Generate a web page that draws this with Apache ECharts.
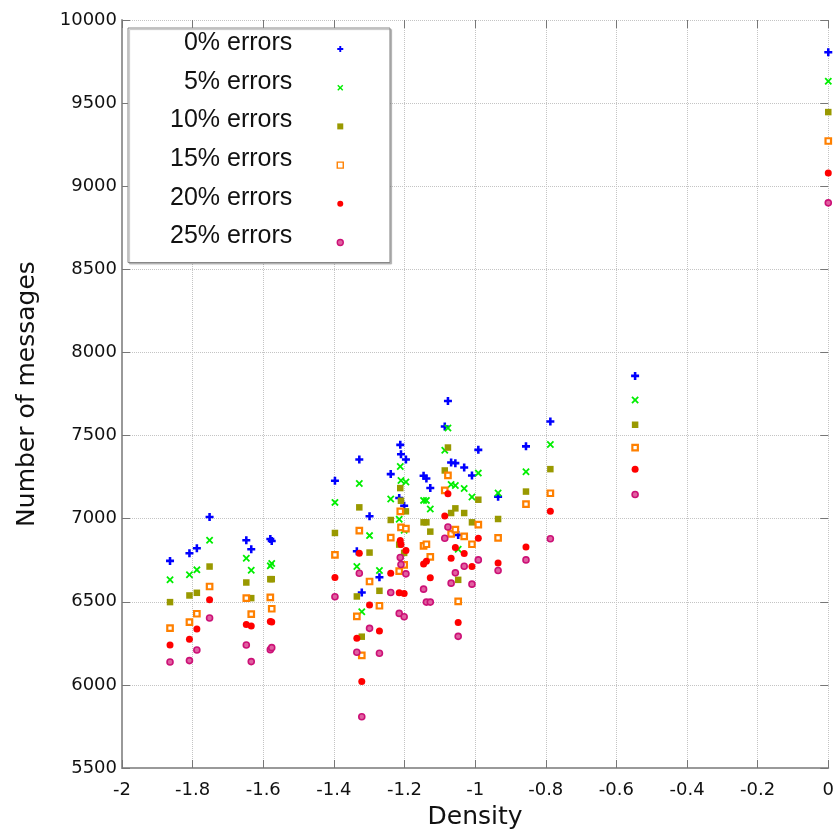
<!DOCTYPE html>
<html>
<head>
<meta charset="utf-8">
<script src="https://cdn.jsdelivr.net/npm/echarts@6/dist/echarts.min.js"></script>
<style>
  html, body { margin: 0; padding: 0; background: #fff; }
  #chart { width: 837px; height: 835px; }
</style>
</head>
<body>
<div id="chart"></div>
<script>
// density of each measured configuration (x)
var density = [-1.864, -1.809, -1.788, -1.752, -1.648, -1.634, -1.580, -1.576,
  -1.397, -1.335, -1.328, -1.321, -1.299, -1.271, -1.239, -1.215, -1.212, -1.210,
  -1.201, -1.196, -1.146, -1.138, -1.127, -1.086, -1.077, -1.068, -1.056, -1.048,
  -1.031, -1.009, -0.991, -0.935, -0.856, -0.787, -0.547, 0]

// number of messages per error rate
var err0 = [6746, 6792, 6822, 7010, 6870, 6816, 6878, 6866,
  7228, 6804, 7356, 6556, 7014, 6648, 7268, 7124, 7444, 7388,
  7078, 7356, 7258, 7242, 7184, 7554, 7708, 7338, 7334, 6902,
  7308, 7260, 7414, 7132, 7435, 7585, 7859, 9806]
var err5 = [6632, 6662, 6692, 6870, 6762, 6690, 6716, 6730,
  7098, 6712, 7212, 6440, 6898, 6688, 7118, 6996, 7314, 7230,
  6930, 7220, 7110, 7110, 7058, 7412, 7546, 7206, 7200, 6816,
  7182, 7130, 7274, 7154, 7282, 7446, 7714, 9632]
var err10 = [6498, 6538, 6554, 6712, 6616, 6522, 6636, 6636,
  6914, 6532, 7068, 6290, 6796, 6566, 6992, 6844, 7184, 7108,
  6794, 7044, 6978, 6978, 6922, 7290, 7428, 7034, 7062, 6632,
  7034, 6978, 7114, 6998, 7163, 7298, 7565, 9446]
var err15 = [6342, 6378, 6428, 6592, 6522, 6426, 6526, 6458,
  6782, 6412, 6928, 6178, 6622, 6476, 6886, 6684, 7044, 6948,
  6722, 6940, 6836, 6846, 6770, 7170, 7260, 6908, 6934, 6502,
  6894, 6846, 6964, 6884, 7087, 7153, 7427, 9272]
var err20 = [6240, 6274, 6336, 6512, 6364, 6354, 6382, 6378,
  6646, 6280, 6792, 6020, 6480, 6324, 6672, 6554, 6868, 6844,
  6550, 6808, 6728, 6744, 6644, 7016, 7150, 6762, 6826, 6376,
  6790, 6712, 6882, 6734, 6829, 7044, 7298, 9080]
var err25 = [6138, 6146, 6210, 6402, 6240, 6140, 6212, 6224,
  6530, 6196, 6672, 5808, 6340, 6190, 6556, 6430, 6766, 6724,
  6410, 6668, 6576, 6498, 6498, 6882, 6950, 6612, 6674, 6292,
  6714, 6606, 6752, 6688, 6752, 6879, 7145, 8900]

var seriesNames = ['0% errors', '5% errors', '10% errors', '15% errors', '20% errors', '25% errors']
var seriesValues = [err0, err5, err10, err15, err20, err25]

var plusPath = 'path://M3.4,0H6.6V3.4H10V6.6H6.6V10H3.4V6.6H0V3.4H3.4Z'
var crossPath = 'path://M1.7,0L5,3.3L8.3,0L10,1.7L6.7,5L10,8.3L8.3,10L5,6.7L1.7,10L0,8.3L3.3,5L0,1.7Z'

var markers = [
  { symbol: plusPath, size: 8, style: { color: '#0000ff', opacity: 1 } },
  { symbol: crossPath, size: 7.5, style: { color: '#00ee00', opacity: 1 } },
  { symbol: 'rect', size: 6.5, style: { color: '#999900', opacity: 1 } },
  { symbol: 'rect', size: 5.5, style: { color: '#ffffff', borderColor: '#ff8000', borderWidth: 2.2, opacity: 1 } },
  { symbol: 'circle', size: 7, style: { color: '#ff0000', opacity: 1 } },
  { symbol: 'circle', size: 6, style: { color: '#e060a0', borderColor: '#cc1177', borderWidth: 1.6, opacity: 1 } }
]

function zip(xs, ys) {
  var out = []
  for (var i = 0; i < xs.length; i++) out.push([xs[i], ys[i]])
  return out
}

var series = seriesNames.map(function (name, i) {
  return {
    name: name,
    type: 'scatter',
    clip: false,
    symbol: markers[i].symbol,
    symbolSize: markers[i].size,
    itemStyle: markers[i].style,
    emphasis: { disabled: true },
    data: zip(density, seriesValues[i])
  }
})

// smaller icons in the legend box, thinner border on the hollow ones
var legendData = seriesNames.map(function (name, i) {
  if (markers[i].style.borderWidth) {
    return { name: name, itemStyle: { borderWidth: 1.4 } }
  }
  return { name: name }
})

var tickFont = { fontFamily: 'DejaVu Sans', fontSize: 18, color: '#111' }
var nameFont = { fontFamily: 'DejaVu Sans', fontSize: 25, color: '#111' }
var gridLine = { lineStyle: { type: 'dotted', color: '#c4c4c4', width: 1 } }

var chart = echarts.init(document.getElementById('chart'), null, { renderer: 'canvas' })

chart.setOption({
  backgroundColor: '#fff',
  animation: false,
  grid: { left: 122, right: 6, top: 20, bottom: 65, containLabel: false },
  legend: {
    orient: 'vertical',
    align: 'right',
    left: 128,
    top: 28,
    padding: [2.5, 46, 1.5, 42],
    itemWidth: 6,
    itemHeight: 6,
    itemGap: 1.7,
    backgroundColor: '#fff',
    borderColor: '#888',
    borderWidth: 1,
    shadowColor: 'rgba(0,0,0,0.25)',
    shadowBlur: 1,
    shadowOffsetX: 1.5,
    shadowOffsetY: 1.5,
    selectedMode: false,
    formatter: function (name) { return '{t|' + name + '}' },
    textStyle: {
      color: '#111',
      rich: {
        t: {
          fontFamily: 'Liberation Sans',
          fontSize: 25,
          lineHeight: 26,
          color: '#111',
          padding: [0, 40, 12, 0]
        }
      }
    },
    data: legendData
  },
  xAxis: [{
    type: 'value',
    position: 'bottom',
    min: -2,
    max: 0,
    interval: 0.2,
    name: 'Density',
    nameLocation: 'middle',
    nameGap: 37,
    nameTextStyle: nameFont,
    axisLine: { onZero: false, lineStyle: { color: '#999', width: 2 } },
    axisTick: { inside: true, length: 8, lineStyle: { color: '#777' } },
    axisLabel: Object.assign({ margin: 13 }, tickFont),
    splitLine: gridLine
  }, {
    type: 'value',
    position: 'top',
    min: -2,
    max: 0,
    interval: 0.2,
    axisLine: { show: false },
    axisTick: { inside: true, length: 8, lineStyle: { color: '#777' } },
    axisLabel: { show: false },
    splitLine: { show: false }
  }],
  yAxis: [{
    type: 'value',
    position: 'left',
    min: 5500,
    max: 10000,
    interval: 500,
    name: 'Number of messages',
    nameLocation: 'middle',
    nameGap: 82,
    nameTextStyle: nameFont,
    axisLine: { show: true, onZero: false, lineStyle: { color: '#999', width: 2 } },
    axisTick: { show: true, inside: true, length: 8, lineStyle: { color: '#777' } },
    axisLabel: Object.assign({ margin: 5, formatter: function (v) { return String(v) } }, tickFont),
    splitLine: gridLine
  }, {
    type: 'value',
    position: 'right',
    min: 5500,
    max: 10000,
    interval: 500,
    axisLine: { show: false },
    axisTick: { show: true, inside: true, length: 8, lineStyle: { color: '#777' } },
    axisLabel: { show: false },
    splitLine: { show: false }
  }],
  series: series
})
</script>
</body>
</html>
